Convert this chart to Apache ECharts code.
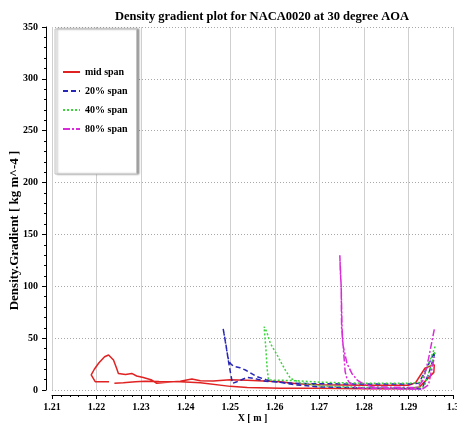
<!DOCTYPE html>
<html>
<head>
<meta charset="utf-8">
<script src="https://cdn.jsdelivr.net/npm/echarts@6/dist/echarts.min.js"></script>
<style>
  html, body { margin: 0; padding: 0; background: #ffffff; }
  #chart { width: 457px; height: 427px; }
</style>
</head>
<body>
<div id="chart"></div>
<script>
// Density gradient along the NACA0020 surface at four span stations.
// Each station is a closed loop: trailing edge -> leading edge -> trailing edge.

const seriesNames = ['mid span', '20% span', '40% span', '80% span'];

// mid span (null marks a break in the traced curve)
const midSpanX = [1.2958, 1.2957, 1.2925, 1.2900, 1.2800, 1.2700, 1.2612, 1.2538, 1.2500, 1.2433,
                  1.2388, 1.2340, 1.2309, 1.2287, 1.2260, 1.2240, 1.2234, 1.2228, 1.2210, 1.2197,
                  1.2188, 1.2195, 1.2205, 1.2218, 1.2227, 1.2238, 1.2245, 1.2249, 1.2265, 1.2279,
                  1.2290, 1.2305, 1.2324, 1.2335, 1.2358, 1.2388, 1.2414, 1.2433, 1.2462, 1.2500,
                  1.2538, 1.2612, 1.2650, 1.2700, 1.2800, 1.2900, 1.2916, 1.2937, 1.2958];
const midSpanY = [24.7, 17, 3, 1.3, 1.3, 1.6, 1.8, 2.5, 3.5, 7,
                  8, 8.2, 8.5, 8, 7, 6.4, null, 8, 8, 8,
                  14.5, 20, 26, 32, 33.7, 29, 21, 16, 15, 16,
                  13.5, 12, 9.6, 6.4, 7.4, 8.4, 10.5, 9, 8.7, 10,
                  9.5, 8, 6, 5, 4.5, 4.5, 7, 21, 24.7];

// 20% span
const span20X = [1.2957, 1.2940, 1.2923, 1.2900, 1.2800, 1.2700, 1.2646, 1.2579, 1.2560, 1.2538,
                 1.2515, 1.2505, 1.2500, 1.2495, 1.2490, 1.2484, 1.2487, 1.2495, 1.2500, 1.2507,
                 1.2522, 1.2534, 1.2541, 1.2560, 1.2580, 1.2601, 1.2646, 1.2700, 1.2800, 1.2900,
                 1.2930, 1.2945, 1.2957, 1.2959];
const span20Y = [35.4, 20, 6.4, 5.8, 5.8, 6, 6.4, 8.5, 10.5, 12.2,
                 8, 6.4, 18, 30.5, 45, 59.5, 52, 31, 25.7, 23,
                 21.5, 19.3, 17.6, 12.8, 10, 8, 5, 3, 2, 1.5,
                 1, 15, 32, 36];

// 40% span
const span40X = [1.2960, 1.2945, 1.2927, 1.2900, 1.2800, 1.2700, 1.2646, 1.2600, 1.2586, 1.2583,
                 1.2580, 1.2576, 1.2582, 1.2590, 1.2605, 1.2615, 1.2624, 1.2635, 1.2657, 1.2700,
                 1.2800, 1.2900, 1.2935, 1.2950, 1.2960];
const span40Y = [42, 25, 7, 6.5, 6.5, 7.5, 9, 9.5, 9.6, 20,
                 40, 61, 56, 45, 34, 26, 19, 11.3, 7, 4,
                 2.5, 2, 3, 22, 38];

// 80% span
const span80X = [1.2958, 1.2945, 1.2934, 1.2920, 1.2900, 1.2820, 1.2800, 1.2785, 1.2773, 1.2762,
                 1.2753, 1.2750, 1.2749, 1.2746, 1.2747, 1.2749, 1.2750, 1.2751, 1.2753, 1.2755,
                 1.2758, 1.2762, 1.2766, 1.2777, 1.2800, 1.2900, 1.2930, 1.2945, 1.2955, 1.2958];
const span80Y = [58.5, 30, 10, 2.5, 2.5, 3, 5.5, 9.6, 16, 25.7,
                 43.4, 60, 100, 130, 115, 101, 80, 59.5, 45, 33.7,
                 17.6, 11, 8, 3.2, 1.5, 1, 0.5, 5, 25, 32];

// axis ranges and tick steps
const xMin = 1.21, xMax = 1.30, xStep = 0.01;
const yMin = 0, yMax = 350, yStep = 50;

const serifFont = "'Liberation Serif', 'DejaVu Serif', serif";

function pairs(xs, ys) {
  return xs.map((x, i) => [x, ys[i] === null ? '-' : ys[i]]);
}

const traces = [
  { x: midSpanX, y: midSpanY, color: '#e02222', dash: 'solid' },
  { x: span20X,  y: span20Y,  color: '#2626b8', dash: [5, 3] },
  { x: span40X,  y: span40Y,  color: '#3bd43b', dash: [2, 2] },
  { x: span80X,  y: span80Y,  color: '#d82cd8', dash: [7, 2, 2, 2] }
];

const chart = echarts.init(document.getElementById('chart'), null, { renderer: 'canvas' });

chart.setOption({
  animation: false,
  backgroundColor: '#ffffff',
  title: {
    text: 'Density gradient plot for NACA0020 at 30 degree AOA',
    left: 257,
    textAlign: 'center',
    top: 5,
    textStyle: { fontFamily: serifFont, fontWeight: 'bold', fontSize: 12.5, color: '#000' }
  },
  legend: {
    data: seriesNames,
    orient: 'vertical',
    left: 55,
    top: 29,
    padding: [38, 9, 40, 7],
    itemWidth: 17,
    itemHeight: 10,
    itemGap: 9,
    itemStyle: { opacity: 0 },
    backgroundColor: '#ffffff',
    borderColor: '#c4c4c4',
    borderWidth: 1,
    shadowColor: 'rgba(0,0,0,0.35)',
    shadowOffsetX: 2,
    shadowBlur: 2,
    textStyle: { fontFamily: serifFont, fontWeight: 'bold', fontSize: 10, color: '#000' }
  },
  // the plot runs to the right edge, so the last tick label is allowed to be clipped
  grid: { left: 52, right: 4, top: 27, bottom: 37, outerBoundsMode: 'none', containLabel: false },
  xAxis: {
    type: 'value',
    min: xMin,
    max: xMax,
    interval: xStep,
    offset: 5,
    name: 'X [ m ]',
    nameLocation: 'middle',
    nameGap: 18,
    nameMoveOverlap: false,
    nameTextStyle: { fontFamily: serifFont, fontWeight: 'bold', fontSize: 10, color: '#000' },
    axisLine: { onZero: false, lineStyle: { color: '#000', width: 1 } },
    axisTick: { length: 4, lineStyle: { color: '#000' } },
    minorTick: { show: true, splitNumber: 5, length: 2, lineStyle: { color: '#000' } },
    axisLabel: {
      margin: 7,
      hideOverlap: false,
      fontFamily: serifFont, fontWeight: 'bold', fontSize: 10, color: '#000',
      formatter: v => String(parseFloat(v.toFixed(2)))
    },
    splitLine: { show: true, lineStyle: { color: '#cfcfcf', width: 1, type: 'solid' } }
  },
  yAxis: {
    type: 'value',
    min: yMin,
    max: yMax,
    interval: yStep,
    offset: 6,
    name: 'Density.Gradient [ kg m^-4 ]',
    nameLocation: 'middle',
    nameGap: 25,
    nameMoveOverlap: false,
    nameTextStyle: { fontFamily: serifFont, fontWeight: 'bold', fontSize: 13, color: '#000', padding: [0, 44, 0, 0] },
    axisLine: { show: true, lineStyle: { color: '#000', width: 1 } },
    axisTick: { show: true, length: 4, lineStyle: { color: '#000' } },
    minorTick: { show: true, splitNumber: 5, length: 2, lineStyle: { color: '#000' } },
    axisLabel: { margin: 8, fontFamily: serifFont, fontWeight: 'bold', fontSize: 10, color: '#000' },
    splitLine: { show: true, lineStyle: { color: '#a8a8a8', width: 1, type: [1, 2] } }
  },
  series: traces.map((t, i) => ({
    name: seriesNames[i],
    type: 'line',
    symbol: 'none',
    showSymbol: false,
    connectNulls: false,
    silent: true,
    lineStyle: { color: t.color, width: 1.5, type: t.dash },
    itemStyle: { color: t.color },
    data: pairs(t.x, t.y)
  }))
});
</script>
</body>
</html>
